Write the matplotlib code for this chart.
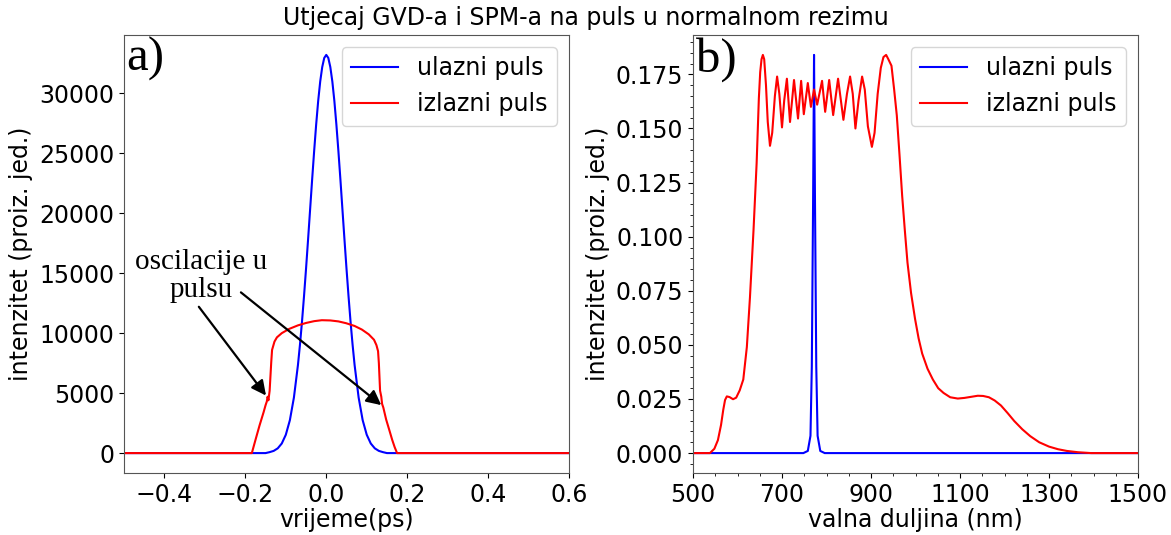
import matplotlib
matplotlib.use("Agg")
import matplotlib.pyplot as plt
from matplotlib.ticker import AutoMinorLocator, FormatStrFormatter

# ---------------- data: panel a (time domain) ----------------
t_in = [-0.5, -0.15, -0.14, -0.13, -0.12, -0.11, -0.10, -0.09, -0.08, -0.07, -0.065, -0.06,
        -0.055, -0.05, -0.045, -0.04, -0.035, -0.03, -0.025, -0.02, -0.015, -0.01, -0.005,
        0.0, 0.005, 0.01, 0.015, 0.02, 0.025, 0.03, 0.035, 0.04, 0.045, 0.05, 0.055, 0.06,
        0.065, 0.07, 0.08, 0.09, 0.10, 0.11, 0.12, 0.13, 0.14, 0.15, 0.6]
I_in = [0, 0, 80, 183, 395, 800, 1530, 2740, 4630, 7350, 9050, 10960,
        13090, 15380, 17800, 20290, 22780, 25170, 27390, 29360, 30980, 32190, 32950,
        33200, 32950, 32190, 30980, 29360, 27390, 25170, 22780, 20290, 17800, 15380, 13090, 10960,
        9050, 7350, 4630, 2740, 1530, 800, 395, 183, 80, 0, 0]

t_out = [-0.5, -0.184, -0.175, -0.165, -0.155, -0.150, -0.147, -0.145, -0.143, -0.140,
         -0.136, -0.134, -0.128, -0.122, -0.110, -0.092, -0.070, -0.050, -0.030, -0.011,
         0.010, 0.030, 0.049, 0.070, 0.088, 0.105, 0.118, 0.124, 0.128, 0.130, 0.133,
         0.136, 0.138, 0.141, 0.148, 0.156, 0.163, 0.169, 0.175, 0.6]
I_out = [0, 0, 1100, 2300, 3400, 4000, 4300, 4700, 4400, 5200,
         7600, 8600, 9300, 9650, 10000, 10350, 10650, 10850, 11000, 11080,
         11060, 10980, 10830, 10600, 10300, 9900, 9450, 9000, 8500, 7500, 5200,
         4700, 4100, 3800, 2800, 1900, 1100, 500, 0, 0]

# ---------------- data: panel b (spectrum) ----------------
wl_in = [500, 748, 758, 764, 767, 770, 772, 774, 777, 780, 786, 796, 1500]
S_in = [0, 0, 0.001, 0.008, 0.04, 0.12, 0.184, 0.12, 0.04, 0.008, 0.001, 0, 0]

wl_out = [500, 538, 548, 556, 563, 568, 572, 576, 582, 590, 597, 605, 613, 621, 628, 636,
          643, 648, 651, 654, 657, 660, 664, 668, 673, 678, 684, 689, 694, 700, 705, 711,
          718, 727, 736, 743, 749, 758, 765, 772, 779, 790, 797, 806, 815, 826, 838, 846,
          853, 859, 865, 872, 880, 886, 893, 902, 908, 915, 922, 928, 934, 939, 946, 952,
          958, 964, 970, 976, 982, 990, 999, 1007, 1015, 1027, 1039, 1051, 1063, 1078,
          1095, 1110, 1125, 1140, 1152, 1165, 1178, 1192, 1207, 1222, 1240, 1258, 1278,
          1300, 1320, 1340, 1365, 1395, 1500]
S_out = [0, 0, 0.002, 0.006, 0.013, 0.020, 0.0245, 0.0262, 0.0259, 0.0249, 0.0256, 0.029,
         0.034, 0.049, 0.072, 0.103, 0.134, 0.164, 0.176, 0.182, 0.184, 0.182, 0.170, 0.153,
         0.142, 0.148, 0.165, 0.174, 0.166, 0.1505, 0.163, 0.173, 0.153, 0.1724, 0.1546,
         0.172, 0.1566, 0.171, 0.160, 0.168, 0.161, 0.172, 0.1577, 0.1724, 0.1562, 0.173,
         0.154, 0.166, 0.174, 0.166, 0.150, 0.163, 0.174, 0.168, 0.151, 0.1415, 0.148,
         0.166, 0.178, 0.183, 0.184, 0.182, 0.179, 0.168, 0.156, 0.138, 0.119, 0.103,
         0.088, 0.074, 0.062, 0.053, 0.046, 0.039, 0.034, 0.030, 0.0278, 0.0258, 0.0252,
         0.0255, 0.026, 0.0265, 0.0264, 0.0258, 0.0243, 0.022, 0.0185, 0.0148, 0.011,
         0.0078, 0.005, 0.003, 0.0018, 0.001, 0.0004, 0, 0]

legend_labels = ["ulazni puls", "izlazni puls"]
title = "Utjecaj GVD-a i SPM-a na puls u normalnom rezimu"

# ---------------- figure ----------------
W, H = 1171, 535
fig = plt.figure(figsize=(W / 100, H / 100), dpi=100)
FS = 17

def box(x0, x1, y0, y1):
    return [x0 / W, 1 - y1 / H, (x1 - x0) / W, (y1 - y0) / H]

axA = fig.add_axes(box(124, 569, 35, 473))
axB = fig.add_axes(box(693, 1138, 35, 473))

for ax in (axA, axB):
    for s in ax.spines.values():
        s.set_color('#555555')

# panel a
axA.plot(t_in, I_in, color='blue', lw=1.5, label=legend_labels[0])
axA.plot(t_out, I_out, color='red', lw=1.5, label=legend_labels[1])
axA.set_xlim(-0.5, 0.6)
axA.set_ylim(-1660, 34860)
axA.set_xticks([-0.4, -0.2, 0.0, 0.2, 0.4, 0.6])
axA.set_yticks([0, 5000, 10000, 15000, 20000, 25000, 30000])
axA.tick_params(labelsize=FS)
axA.set_xlabel("vrijeme(ps)", fontsize=FS, labelpad=1)
axA.set_ylabel("intenzitet (proiz. jed.)", fontsize=FS)
axA.legend(loc='upper right', fontsize=FS, handlelength=2.0)
axA.text(0.006, 0.995, "a)", transform=axA.transAxes, family='Liberation Serif',
         fontsize=35, ha='left', va='top')
axA.text(-0.31, 14750, "oscilacije u\npulsu", family='Liberation Serif', fontsize=21,
         ha='center', va='center', linespacing=1.12)
arrow = dict(arrowstyle='-|>', color='black', lw=1.6, mutation_scale=22,
             shrinkA=0, shrinkB=0)
axA.annotate("", xy=(-0.149, 4800), xytext=(-0.315, 12200), arrowprops=arrow)
axA.annotate("", xy=(0.136, 4000), xytext=(-0.211, 13400), arrowprops=arrow)

# panel b
axB.plot(wl_in, S_in, color='blue', lw=1.5, label=legend_labels[0])
axB.plot(wl_out, S_out, color='red', lw=1.5, label=legend_labels[1])
axB.set_xlim(500, 1500)
axB.set_ylim(-0.0092, 0.1932)
axB.set_xticks([500, 700, 900, 1100, 1300, 1500])
axB.set_yticks([0, 0.025, 0.05, 0.075, 0.1, 0.125, 0.15, 0.175])
axB.yaxis.set_major_formatter(FormatStrFormatter('%.3f'))
axB.xaxis.set_minor_locator(AutoMinorLocator(4))
axB.yaxis.set_minor_locator(AutoMinorLocator(5))
axB.tick_params(labelsize=FS)
axB.set_xlabel("valna duljina (nm)", fontsize=FS, labelpad=1)
axB.set_ylabel("intenzitet (proiz. jed.)", fontsize=FS)
axB.legend(loc='upper right', fontsize=FS, handlelength=2.0)
axB.text(0.006, 0.995, "b)", transform=axB.transAxes, family='Liberation Serif',
         fontsize=35, ha='left', va='top')

fig.suptitle(title, fontsize=FS, x=0.5, y=0.988, va='top')

fig.savefig("out.png", dpi=100)
